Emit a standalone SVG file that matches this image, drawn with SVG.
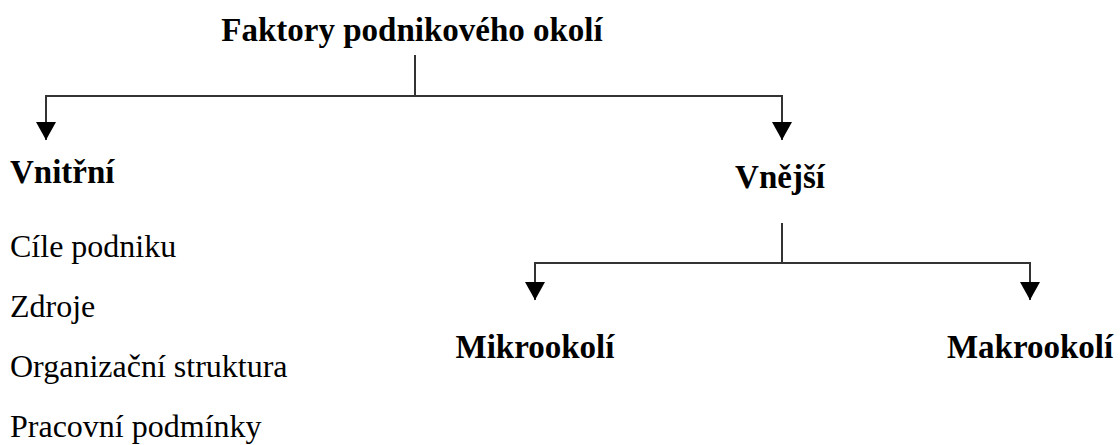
<svg xmlns="http://www.w3.org/2000/svg" width="1120" height="445" viewBox="0 0 1120 445">
<defs>
<marker id="arr" viewBox="0 0 20 18" refX="10" refY="18" markerWidth="20" markerHeight="18" markerUnits="userSpaceOnUse" orient="0">
<path d="M0,0 L20,0 L10,18 Z" fill="#000"/>
</marker>
</defs>
<style>
text{font-family:'Liberation Serif','Times New Roman',serif;fill:#000}
.b{font-weight:bold;font-size:33px}
.r{font-size:32px}
.ln{fill:none;stroke:#333;stroke-width:2}
</style>
<rect width="1120" height="445" fill="#fff"/>
<g id="connectors">
<path class="ln" d="M415,55 V96"/>
<path class="ln" d="M46,140 V96 H782 V140" marker-start="url(#arr)" marker-end="url(#arr)"/>
<path class="ln" d="M782,223 V263"/>
<path class="ln" d="M535,300 V263 H1030 V300" marker-start="url(#arr)" marker-end="url(#arr)"/>
</g>
<g id="title"><text class="b" x="412" y="41" text-anchor="middle">Faktory podnikového okolí</text></g>
<g id="vnitrni"><text class="b" x="10" y="183">Vnitřní</text></g>
<g id="vnejsi"><text class="b" x="780" y="188" text-anchor="middle">Vnější</text></g>
<g id="mikro"><text class="b" x="535" y="358" text-anchor="middle">Mikrookolí</text></g>
<g id="makro"><text class="b" x="1030" y="358" text-anchor="middle">Makrookolí</text></g>
<g id="list">
<text class="r" x="10" y="257">Cíle podniku</text>
<text class="r" x="10" y="317">Zdroje</text>
<text class="r" x="10" y="377">Organizační struktura</text>
<text class="r" x="10" y="437">Pracovní podmínky</text>
</g>
</svg>
